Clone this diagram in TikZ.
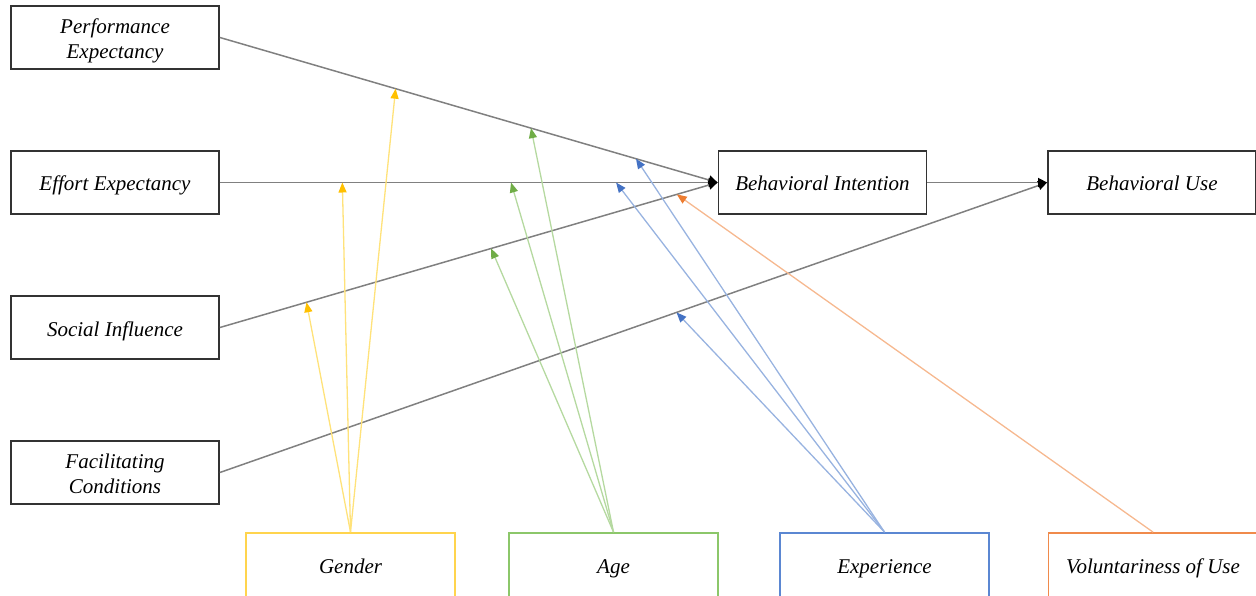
\documentclass[tikz,border=0pt]{standalone}
\usepackage{fontspec}
\setmainfont{Liberation Serif}
\usetikzlibrary{arrows.meta,calc}
\definecolor{boxdraw}{HTML}{333333}
\definecolor{conn}{HTML}{808080}
\definecolor{yelB}{HTML}{FFD44D}
\definecolor{yelL}{HTML}{FFE27A}
\definecolor{yelH}{HTML}{FFC000}
\definecolor{grnB}{HTML}{8CC76A}
\definecolor{grnL}{HTML}{B5D9A0}
\definecolor{grnH}{HTML}{70AD47}
\definecolor{bluB}{HTML}{5B87D2}
\definecolor{bluL}{HTML}{98B3E0}
\definecolor{bluH}{HTML}{4472C4}
\definecolor{orgB}{HTML}{F08A4B}
\definecolor{orgL}{HTML}{F6B88F}
\definecolor{orgH}{HTML}{ED7D31}
\tikzset{
  cbox/.style={draw=boxdraw, line width=1.8pt, minimum width=208pt, minimum height=63pt,
    inner sep=0pt, align=center, font=\fontsize{21}{25}\selectfont\itshape,
    text height=21pt, text depth=4pt},
  twoline/.style={text height=46pt, text depth=4pt},
  mbox/.style={draw=#1, line width=1.8pt, minimum width=209pt, minimum height=68pt,
    inner sep=0pt, align=center, font=\fontsize{21}{25}\selectfont\itshape,
    text height=17pt, text depth=4pt},
  mainline/.style={draw=conn, line width=1.5pt},
  mainarrow/.style={mainline, -{Triangle[length=9pt,width=9pt,fill=black,color=black]}},
  modarrow/.style={draw=#1L, line width=1.3pt, -{Triangle[length=10pt,width=8pt,color=#1H]}},
}
\begin{document}
\begin{tikzpicture}[x=1pt,y=-1pt]
\useasboundingbox (0,0) rectangle (1256,596);
\node[cbox,twoline] (pe) at (115,37.5) {Performance\\Expectancy};
\node[cbox] (ee) at (115,182.5) {Effort Expectancy};
\node[cbox] (si) at (115,327.5) {Social Influence};
\node[cbox,twoline] (fc) at (115,472.5) {Facilitating\\Conditions};
\node[cbox] (bi) at (822.5,182.5) {Behavioral Intention};
\node[cbox] (bu) at (1152,182.5) {Behavioral Use};
\node[mbox=yelB] (gen) at (350.5,567) {Gender};
\node[mbox=grnB] (age) at (613.5,567) {Age};
\node[mbox=bluB] (exp) at (884.5,567) {Experience};
\node[mbox=orgB] (vol) at (1153,567) {Voluntariness of Use};

\draw[mainarrow] (pe.east) -- (bi.west);
\draw[mainarrow] (ee.east) -- (bi.west);
\draw[mainarrow] (si.east) -- (bi.west);
\draw[mainarrow] (fc.east) -- (bu.west);
\draw[mainarrow] (bi.east) -- (bu.west);

\coordinate (gpe) at ($(pe.east)!0.353!(bi.west)$);
\coordinate (gee) at ($(ee.east)!0.246!(bi.west)$);
\coordinate (gsi) at ($(si.east)!0.174!(bi.west)$);
\coordinate (ape) at ($(pe.east)!0.625!(bi.west)$);
\coordinate (aee) at ($(ee.east)!0.585!(bi.west)$);
\coordinate (asi) at ($(si.east)!0.545!(bi.west)$);
\coordinate (epe) at ($(pe.east)!0.836!(bi.west)$);
\coordinate (eee) at ($(ee.east)!0.796!(bi.west)$);
\coordinate (efc) at ($(fc.east)!0.552!(bu.west)$);
\coordinate (vsi) at ($(si.east)!0.918!(bi.west)$);

\draw[modarrow=yel] (gen.north) -- (gpe);
\draw[modarrow=yel] (gen.north) -- (gee);
\draw[modarrow=yel] (gen.north) -- (gsi);
\draw[modarrow=grn] (age.north) -- (ape);
\draw[modarrow=grn] (age.north) -- (aee);
\draw[modarrow=grn] (age.north) -- (asi);
\draw[modarrow=blu] (exp.north) -- (epe);
\draw[modarrow=blu] (exp.north) -- (eee);
\draw[modarrow=blu] (exp.north) -- (efc);
\draw[modarrow=org] (vol.north) -- (vsi);
\end{tikzpicture}
\end{document}
